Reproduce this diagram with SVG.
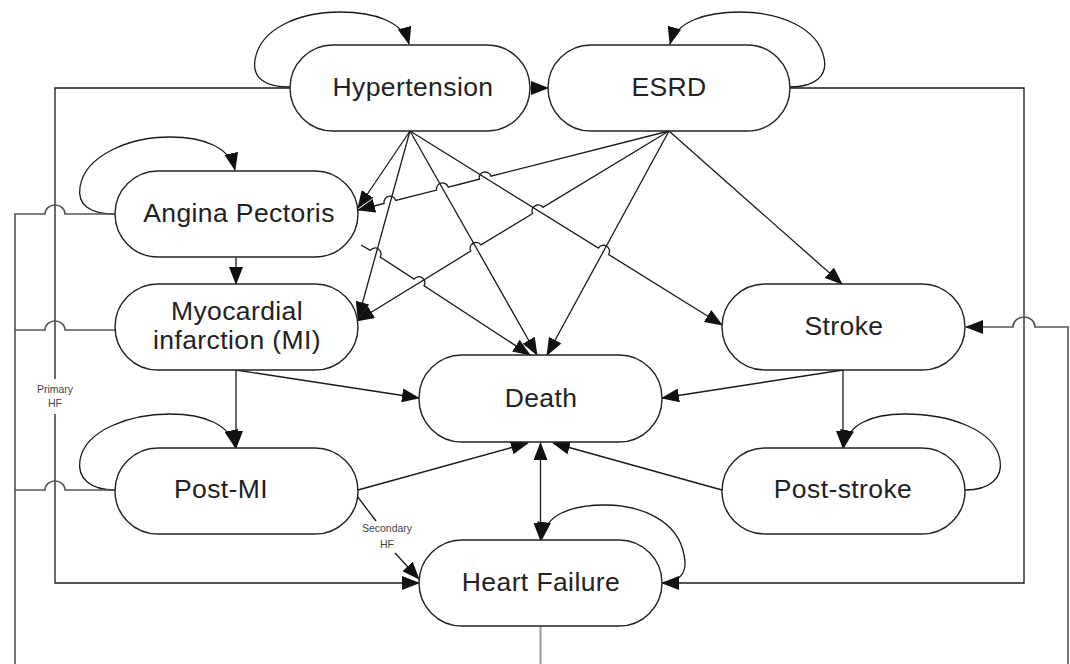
<svg xmlns="http://www.w3.org/2000/svg" width="1070" height="664" viewBox="0 0 1070 664">
  <defs>
    <style>
      .node rect { fill: #fff; stroke: #222; stroke-width: 1.4; }
      .node text { font-family: "Liberation Sans", Arial, sans-serif; font-size: 26.5px; letter-spacing: 0.4px; fill: #222; text-anchor: middle; }
      .edge { fill: none; stroke: #1a1a1a; stroke-width: 1.3; }
      .arr { marker-end: url(#ah); }
      .frame { fill: none; stroke: #555; stroke-width: 1.6; }
      .trunk { fill: none; stroke: #999; stroke-width: 2; }
      .note { font-family: "Liberation Sans", Arial, sans-serif; font-size: 10.5px; fill: #444; text-anchor: middle; }
    </style>
    <marker id="ah" markerUnits="userSpaceOnUse" markerWidth="18" markerHeight="14" viewBox="0 0 18 14" refX="17" refY="7" orient="auto">
      <path d="M0,0 L18,7 L0,14 z" fill="#111"/>
    </marker>
    <marker id="ah2" markerUnits="userSpaceOnUse" markerWidth="18" markerHeight="14" viewBox="0 0 18 14" refX="17" refY="7" orient="auto-start-reverse">
      <path d="M0,0 L18,7 L0,14 z" fill="#111"/>
    </marker>
  </defs>

  <rect width="1070" height="664" fill="#fff"/>

  <g id="connectors">
    <!-- self-loops -->
    <path class="edge arr" d="M 290 87 C 265 87, 252 78, 255 60 C 260 28, 300 12, 340 12 C 375 12, 403 22, 409 44"/>
    <path class="edge arr" d="M 790 87 C 815 87, 828 76, 824 58 C 818 28, 780 12, 740 12 C 705 12, 676 22, 670 44"/>
    <path class="edge arr" d="M 115 214 C 90 214, 77 205, 80 187 C 85 155, 130 137, 170 137 C 205 137, 230 148, 235 170"/>
    <path class="edge arr" d="M 115 490 C 90 490, 77 478, 80 460 C 85 430, 130 414, 170 414 C 205 414, 230 425, 235 447"/>
    <path class="edge arr" d="M 965 490 C 990 490, 1003 478, 1000 460 C 995 430, 950 414, 905 414 C 870 414, 848 425, 844 447"/>
    <path class="edge arr" d="M 662 583 C 680 583, 688 572, 684 555 C 678 520, 640 505, 605 505 C 570 505, 545 515, 542 539"/>

    <!-- Hypertension -> ESRD -->
    <path class="edge arr" d="M 530 88 L 548 88"/>

    <!-- fan from Hypertension -->
    <path class="edge arr" d="M 410 131 L 358 208"/>
    <path class="edge arr" d="M 410 131 L 358 319"/>
    <path class="edge arr" d="M 410 131 L 537 355"/>
    <path class="edge arr" d="M 410 131 L 598.4 248.1 A 6 6 0 0 1 608.6 254.5 L 722 325"/>

    <!-- fan from ESRD -->
    <path class="edge arr" d="M 669 131 L 490.9 176.2 A 6 6 0 0 0 479.3 179.2 L 448.2 187.1 A 6 6 0 0 0 436.6 190.1 L 395.7 200.4 A 6 6 0 0 0 384.1 203.4 L 358 210"/>
    <path class="edge arr" d="M 669 131 L 542.9 207.4 A 6 6 0 0 0 532.7 213.6 L 480.9 244.9 A 6 6 0 0 0 470.7 251.1 L 357 321"/>
    <path class="edge arr" d="M 669 131 L 547 355"/>
    <path class="edge arr" d="M 669 131 L 842 284"/>

    <!-- Angina -> Death -->
    <path class="edge arr" d="M 361 245 L 370.2 250.4 A 6 6 0 0 1 380.2 257 L 414.1 279.1 A 6 6 0 0 1 424.1 285.7 L 530 355"/>

    <!-- vertical progressions -->
    <path class="edge arr" d="M 236 257 L 236 284"/>
    <path class="edge arr" d="M 236 370 L 236 448"/>
    <path class="edge arr" d="M 843 370 L 843 448"/>

    <!-- into Death -->
    <path class="edge arr" d="M 236 370 L 419 398"/>
    <path class="edge arr" d="M 843 370 L 662 398"/>
    <path class="edge arr" d="M 358 490 L 528 443"/>
    <path class="edge arr" d="M 722 490 L 553 443"/>
    <path class="edge" marker-start="url(#ah2)" marker-end="url(#ah2)" d="M 540.5 443 L 540.5 540"/>

    <!-- secondary HF -->
    <path class="edge" stroke-width="1" d="M 357 496 L 376 521"/>
    <path class="edge arr" stroke-width="1" d="M 395 553 L 419 579"/>
    <text class="note" x="387" y="532">Secondary</text>
    <text class="note" x="387" y="548">HF</text>

    <!-- primary HF -->
    <path class="edge arr" d="M 290 88 H 55 V 379 M 55 414 V 583 H 419"/>
    <text class="note" x="55" y="393">Primary</text>
    <text class="note" x="55" y="407">HF</text>

    <!-- ESRD to Heart Failure -->
    <path class="edge arr" d="M 790 88 H 1024 V 583 H 662"/>

    <!-- outer return lines -->
    <path class="frame" d="M 115 214 H 65 A 10 9 0 0 0 45 214 H 15 V 664"/>
    <path class="frame" d="M 115 330 H 65 A 10 9 0 0 0 45 330 H 15"/>
    <path class="frame" d="M 115 490 H 65 A 10 9 0 0 0 45 490 H 15"/>
    <path class="frame arr" d="M 1068 664 V 327 H 1035 A 11 10 0 0 0 1013 327 H 966"/>
    <path class="trunk" d="M 540.5 626 V 664"/>
  </g>

  <g id="node-hypertension" class="node">
    <rect x="290" y="45" width="240" height="86" rx="43"/>
    <text x="413" y="96">Hypertension</text>
  </g>
  <g id="node-esrd" class="node">
    <rect x="548" y="45" width="242" height="86" rx="43"/>
    <text x="669" y="96">ESRD</text>
  </g>
  <g id="node-angina" class="node">
    <rect x="115" y="171" width="243" height="86" rx="43"/>
    <text x="239" y="222">Angina Pectoris</text>
  </g>
  <g id="node-mi" class="node">
    <rect x="115" y="284" width="243" height="86" rx="43"/>
    <text x="237" y="320">Myocardial</text>
    <text x="237" y="349">infarction (MI)</text>
  </g>
  <g id="node-death" class="node">
    <rect x="419" y="355" width="243" height="87" rx="43"/>
    <text x="541" y="407">Death</text>
  </g>
  <g id="node-stroke" class="node">
    <rect x="722" y="284" width="243" height="86" rx="43"/>
    <text x="844" y="335">Stroke</text>
  </g>
  <g id="node-post-mi" class="node">
    <rect x="115" y="448" width="243" height="86" rx="43"/>
    <text x="221" y="498">Post-MI</text>
  </g>
  <g id="node-post-stroke" class="node">
    <rect x="722" y="448" width="243" height="86" rx="43"/>
    <text x="843" y="498">Post-stroke</text>
  </g>
  <g id="node-heart-failure" class="node">
    <rect x="419" y="540" width="243" height="86" rx="43"/>
    <text x="541" y="591">Heart Failure</text>
  </g>
</svg>
